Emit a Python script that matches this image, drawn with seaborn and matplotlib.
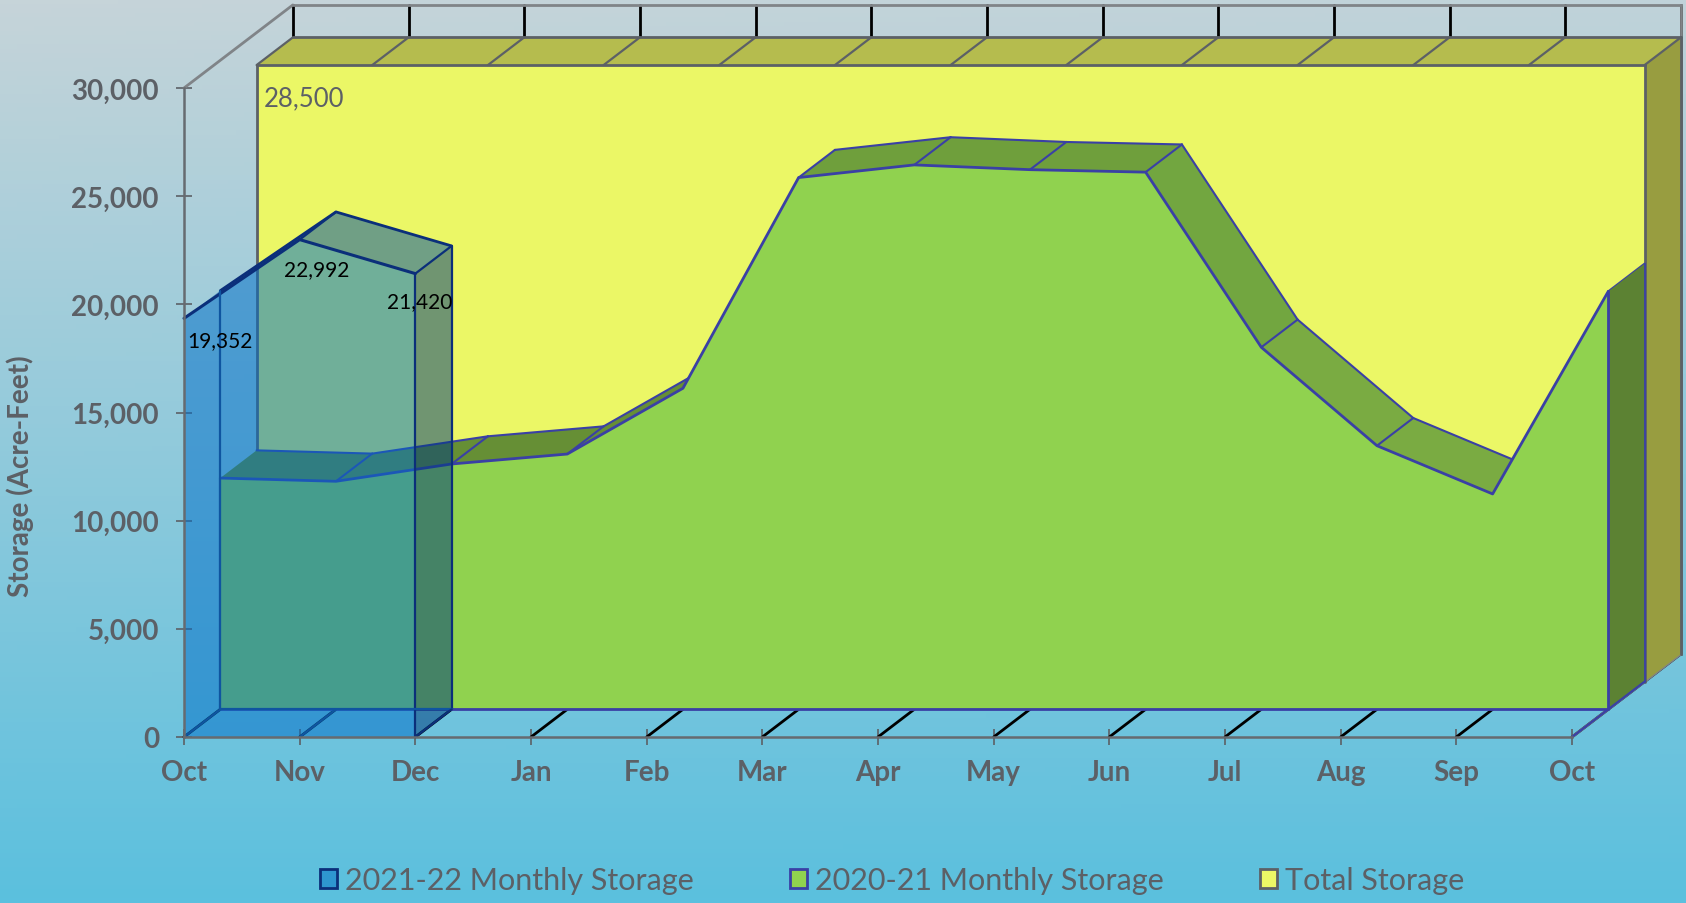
import numpy as np
import pandas as pd
import matplotlib
matplotlib.use("Agg")
import matplotlib.pyplot as plt
import seaborn as sns
from matplotlib.patches import Patch
from matplotlib.colors import LinearSegmentedColormap

# Values
months = ["Oct", "Nov", "Dec", "Jan", "Feb", "Mar", "Apr", "May", "Jun", "Jul", "Aug", "Sep", "Oct"]
storage_2021 = [19352, 22992, 21420]
storage_2020 = [10690, 10540, 11340, 11800, 14840, 24580, 25165, 24945, 24830, 16735, 12185, 9955, 19320]
total_storage = [28500] * 13
y_ticks = [0, 5000, 10000, 15000, 20000, 25000, 30000]

# Depth step of the fake 3D, in data units
DX = 0.3138
DY = 1280

GREY = "#5c6066"
BLUE_EDGE = "#0b2f7a"
GREEN_EDGE = "#3a40a5"

# shade of each 2020-21 top segment
ribbon_shades = ["#668f35", "#668f35", "#668f35", "#668f35", "#668f35", "#6f9f3c",
                 "#6f9f3c", "#6f9f3c", "#72a640", "#7aab42", "#7aab42", "#7aab42"]

sns.set_theme(style="white")
plt.rcParams["font.family"] = ["Lato", "DejaVu Sans"]


def shift(x, y, z):
    return np.asarray(x, dtype=float) + z * DX, np.asarray(y, dtype=float) + z * DY


def face(ax, xs, ys, color, alpha=1.0, zorder=1):
    ax.fill(xs, ys, color=color, alpha=alpha, lw=0, zorder=zorder, clip_on=False)


def edge(ax, xs, ys, color, lw=1.5, zorder=2):
    sns.lineplot(x=xs, y=ys, ax=ax, color=color, lw=lw, sort=False, estimator=None,
                 zorder=zorder, clip_on=False, legend=False)


fig = plt.figure(figsize=(16.86, 9.04), dpi=100)

# background gradient
bg = fig.add_axes([0, 0, 1, 1], zorder=-1)
cmap = LinearSegmentedColormap.from_list("bg", ["#c6d4d9", "#5bc0de"])
yy, xx = np.mgrid[0:1:200j, 0:1:200j]
bg.imshow(yy + 0.06 * (xx - 1) * (1 - yy), cmap=cmap, vmin=-0.06, vmax=1, aspect="auto")
bg.axis("off")

ax = fig.add_axes([184 / 1686, 1 - 738 / 904, (1572 - 184) / 1686, (738 - 89) / 904])
ax.patch.set_visible(False)

x = np.arange(len(months))
x1 = x[:len(storage_2021)]
df = pd.DataFrame({"x": x, "y2020": storage_2020, "total": total_storage})

# walls and floor grid
for xi in x:
    a = shift([xi, xi], [0, 0], 0)
    b = shift([xi, xi], [0, 0], 3)
    edge(ax, [a[0][0], b[0][0]], [a[1][0], b[1][0]], "#000000", lw=2, zorder=1)
    c = shift([xi, xi], [0, 30000], 3)
    edge(ax, c[0], c[1], "#000000", lw=2, zorder=1)

wx, wy = shift([0, 12], [30000, 30000], 3)
edge(ax, wx, wy, "#808488", lw=2, zorder=1)
edge(ax, [0, 3 * DX], [30000, 30000 + 3 * DY], "#808488", lw=2, zorder=1)
edge(ax, [12 + 3 * DX, 12 + 3 * DX], [3 * DY, 30000 + 3 * DY], "#808488", lw=2, zorder=1)
edge(ax, [12, 12 + 3 * DX], [0, 3 * DY], "#808488", lw=2, zorder=1)

# total storage block
fx, fy = shift(x, df["total"], 2)
bx, by = shift(x, df["total"], 3)
base_x, base_y = shift(x, np.zeros(13), 2)
face(ax, np.r_[fx, bx[::-1]], np.r_[fy, by[::-1]], "#b5bc4e", zorder=3)
face(ax, [fx[-1], bx[-1], bx[-1], fx[-1]], [fy[-1], by[-1], 3 * DY, 2 * DY], "#989d40", zorder=3)
face(ax, np.r_[fx, fx[::-1]], np.r_[fy, base_y], "#ebf766", zorder=3)
for i in x:
    edge(ax, [fx[i], bx[i]], [fy[i], by[i]], GREY, lw=1.6, zorder=4)
edge(ax, fx, fy, GREY, lw=2, zorder=4)
edge(ax, bx, by, GREY, lw=2, zorder=4)
edge(ax, [fx[0], fx[0]], [base_y[0], fy[0]], GREY, lw=2, zorder=4)
edge(ax, [fx[-1], fx[-1]], [base_y[-1], fy[-1]], GREY, lw=2, zorder=4)
edge(ax, [bx[-1], bx[-1]], [3 * DY, by[-1]], GREY, lw=2, zorder=4)

# 2020-21 monthly storage
fx, fy = shift(x, df["y2020"], 1)
bx, by = shift(x, df["y2020"], 2)
for i in x[:-1]:
    face(ax, [fx[i], fx[i + 1], bx[i + 1], bx[i]], [fy[i], fy[i + 1], by[i + 1], by[i]],
         ribbon_shades[i], zorder=5)
for i in x[:-1]:
    # steep rises hide their back edge behind the front face
    if fy[i + 1] - fy[i] < DY / DX:
        edge(ax, [bx[i], bx[i + 1]], [by[i], by[i + 1]], GREEN_EDGE, lw=1.5, zorder=5)
    edge(ax, [fx[i + 1], bx[i + 1]], [fy[i + 1], by[i + 1]], GREEN_EDGE, lw=1.5, zorder=5)
face(ax, [fx[-1], bx[-1], bx[-1], fx[-1]], [fy[-1], by[-1], 2 * DY, DY], "#5c8233", zorder=5)
edge(ax, [bx[-1], bx[-1]], [2 * DY, by[-1]], GREEN_EDGE, lw=1.3, zorder=5)
face(ax, np.r_[fx, fx[::-1]], np.r_[fy, np.full(13, DY)], "#90d24f", zorder=6)
edge(ax, fx, fy, GREEN_EDGE, lw=2, zorder=7)
edge(ax, [fx[0], fx[-1]], [DY, DY], GREEN_EDGE, lw=2, zorder=7)
edge(ax, [fx[0], fx[0]], [DY, fy[0]], GREEN_EDGE, lw=1.5, zorder=7)
edge(ax, [fx[-1], fx[-1]], [DY, fy[-1]], GREEN_EDGE, lw=2, zorder=7)
edge(ax, [12, 12 + 2 * DX], [0, 2 * DY], GREEN_EDGE, lw=1.6, zorder=7)

# 2021-22 monthly storage, see-through
fx, fy = shift(x1, storage_2021, 0)
bx, by = shift(x1, storage_2021, 1)
face(ax, np.r_[fx, fx[::-1]], np.r_[fy, np.zeros(3)], "#006ec8", alpha=0.52, zorder=8)
for i in x1[:-1]:
    face(ax, [fx[i], fx[i + 1], bx[i + 1], bx[i]], [fy[i], fy[i + 1], by[i + 1], by[i]],
         "#004ea2", alpha=0.52, zorder=8)
face(ax, [fx[-1], bx[-1], bx[-1], fx[-1]], [fy[-1], by[-1], DY, 0], "#003c7d", alpha=0.52, zorder=8)
edge(ax, fx, fy, BLUE_EDGE, lw=2.2, zorder=9)
edge(ax, bx, by, BLUE_EDGE, lw=2, zorder=9)
edge(ax, [fx[-1], fx[-1]], [0, fy[-1]], BLUE_EDGE, lw=1.6, zorder=9)
edge(ax, [bx[-1], bx[-1]], [DY, by[-1]], BLUE_EDGE, lw=1.6, zorder=9)
edge(ax, [bx[0], bx[0]], [DY, by[0]], "#0f55a0", lw=1.6, zorder=9)
edge(ax, [bx[0], bx[-1]], [DY, DY], "#0f55a0", lw=1.6, zorder=9)
edge(ax, [fx[1], bx[1]], [fy[1], by[1]], BLUE_EDGE, lw=1.6, zorder=9)
edge(ax, [fx[2], bx[2]], [fy[2], by[2]], BLUE_EDGE, lw=1.6, zorder=9)
for i in x1:
    edge(ax, [i, i + DX], [0, DY], "#0f55a0" if i < 2 else BLUE_EDGE, lw=1.6, zorder=9)

# labels on the points
ax.text(0 + DX, storage_2021[0] - 1000, "19,352", ha="center", va="center", fontsize=15, color="black", zorder=12)
ax.text(1.15, storage_2021[1] - 1350, "22,992", ha="center", va="center", fontsize=15, color="black", zorder=12)
ax.text(2.04, storage_2021[2] - 1250, "21,420", ha="center", va="center", fontsize=15, color="black", zorder=12)
ax.text(2 * DX + 0.06, total_storage[0] + 2 * DY - 1530, "28,500", ha="left", va="center", fontsize=18.5, color=GREY, zorder=12)

# axes
ax.set_xlim(0, 12)
ax.set_ylim(0, 30000)
ax.set_xticks(x)
ax.set_xticklabels(months)
ax.set_yticks(y_ticks)
ax.set_yticklabels([f"{v:,}" for v in y_ticks])
ax.tick_params(axis="both", direction="inout", length=12, width=1.2, color=GREY, labelcolor=GREY, labelsize=20, bottom=True, left=True)
ax.tick_params(axis="x", pad=10)
ax.tick_params(axis="y", pad=12)
for lab in ax.get_xticklabels() + ax.get_yticklabels():
    lab.set_fontweight("bold")
for side in ["top", "right"]:
    ax.spines[side].set_visible(False)
for side in ["left", "bottom"]:
    ax.spines[side].set_color("#666b70")
    ax.spines[side].set_linewidth(1.8)
    ax.spines[side].set_zorder(10)
fig.text(20 / 1686, 1 - 476 / 904, "Storage (Acre-Feet)", rotation=90, ha="center", va="center",
         fontsize=20, fontweight="bold", color=GREY)

handles = [Patch(facecolor="#2e96d0", edgecolor=BLUE_EDGE, lw=2),
           Patch(facecolor="#90d24f", edgecolor=GREEN_EDGE, lw=2),
           Patch(facecolor="#ebf766", edgecolor=GREY, lw=2)]
fig.legend(handles, ["2021-22 Monthly Storage", "2020-21 Monthly Storage", "Total Storage"],
           ncols=3, loc="center left", bbox_to_anchor=(320 / 1686, 1 - 881 / 904), frameon=False,
           fontsize=22, labelcolor=GREY, handlelength=0.56, handleheight=0.56,
           handletextpad=0.25, columnspacing=3.16, borderpad=0, borderaxespad=0)

fig.savefig("out.png", dpi=100)
